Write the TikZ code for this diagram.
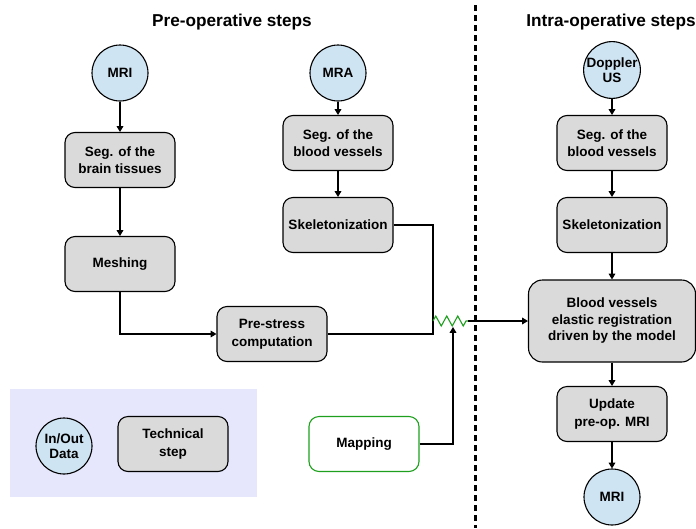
\documentclass[tikz,border=0pt]{standalone}
\usepackage{fontspec}
\setmainfont{Liberation Sans}
\usetikzlibrary{arrows.meta,positioning,decorations.pathmorphing}
\definecolor{datacolor}{RGB}{207,228,242}
\definecolor{stepcolor}{RGB}{218,218,218}
\definecolor{legendcolor}{RGB}{230,230,252}
\definecolor{mapcolor}{RGB}{30,160,30}

\begin{document}
\begin{tikzpicture}[x=1pt,y=-1pt,>=Triangle,
    data/.style={circle, draw, line width=1.1pt, fill=datacolor, minimum size=56pt, inner sep=0pt, align=center, font=\bfseries\fontsize{13.5}{15.5}\selectfont},
    stepbox/.style={rectangle, rounded corners=10pt, draw, line width=1.1pt, fill=stepcolor, minimum width=110pt, minimum height=55pt, align=center, font=\bfseries\fontsize{13.5}{17.5}\selectfont},
    link/.style={->, line width=1.1pt}]
    \useasboundingbox (0,0) rectangle (696,528);

    % Titles
    \node[font=\bfseries\fontsize{17.2}{20}\selectfont] (pretitle) at (232,22) {Pre-operative steps};
    \node[font=\bfseries\fontsize{17.2}{20}\selectfont] (intratitle) at (611,22) {Intra-operative steps};

    % Separation
    \draw[line width=3pt, dash pattern=on 6pt off 4pt] (475,5) -- (475,528);

    % Legend
    \fill[legendcolor] (10,389) rectangle (257,497);
    \node[data] (legdata) at (64,446) {In/Out\\Data};
    \node[stepbox] (legstep) at (173,444) {Technical\\step};

    % Pre-operative steps
    \node[data] (mri) at (120,73) {MRI};
    \node[stepbox] (segbrain) at (120,160) {Seg. of the\\brain tissues};
    \node[stepbox] (meshing) at (120,264) {Meshing};
    \node[data] (mra) at (338,73) {MRA};
    \node[stepbox] (segmra) at (338,143) {Seg. of the\\blood vessels};
    \node[stepbox] (skelpre) at (338,225) {Skeletonization};
    \node[stepbox] (prestress) at (272,334) {Pre-stress\\computation};
    \node[stepbox, fill=white, draw=mapcolor] (mapping) at (364,444) {Mapping};

    % Intra-operative steps
    \node[data] (doppler) at (612,70) {Doppler\\US};
    \node[stepbox] (segus) at (612,143) {Seg. of the\\blood vessels};
    \node[stepbox] (skelintra) at (612,225) {Skeletonization};
    \node[stepbox, minimum width=167pt, minimum height=82pt, rounded corners=14pt, font=\bfseries\fontsize{13.5}{16.5}\selectfont] (reg) at (612,321) {Blood vessels\\elastic registration\\driven by the model};
    \node[stepbox] (update) at (612,414) {Update\\pre-op. MRI};
    \node[data] (mriout) at (612,497) {MRI};

    % Connections
    \coordinate (join) at (433,321);
    \coordinate (zigend) at (468,321);
    \coordinate (mapin) at (453,327);
    \draw[link] (mri) -- (segbrain);
    \draw[link] (segbrain) -- (meshing);
    \draw[link] (meshing.south) |- (prestress.west);
    \draw[link] (mra) -- (segmra);
    \draw[link] (segmra) -- (skelpre);
    \draw[line width=1.1pt] (skelpre.east) -| (prestress.east -| join) -- (prestress.east);
    \draw[mapcolor, line width=1.1pt, decorate, decoration={zigzag, segment length=11pt, amplitude=5pt}] (join) -- (zigend);
    \draw[link] (zigend) -- (reg.west);
    \draw[link] (mapping.east) -| (mapin);
    \foreach \a/\b in {doppler/segus, segus/skelintra, skelintra/reg, reg/update, update/mriout}
        \draw[link] (\a) -- (\b);
\end{tikzpicture}
\end{document}
